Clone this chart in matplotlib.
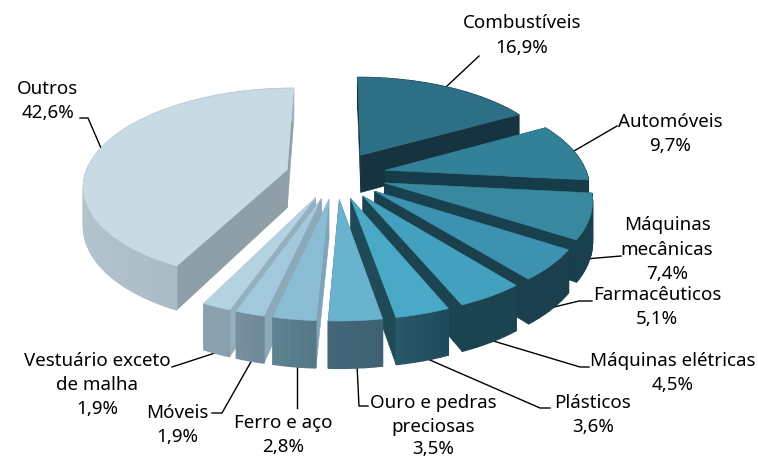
import numpy as np
import matplotlib
matplotlib.use('Agg')
import matplotlib.pyplot as plt
from matplotlib.colors import to_rgb
from matplotlib.patches import Polygon

plt.rcParams['font.family'] = ['Noto Sans', 'DejaVu Sans']

# Data (clockwise from 12 o'clock)
names = ['Combustíveis', 'Automóveis', 'Máquinas mecânicas', 'Farmacêuticos', 'Máquinas elétricas',
         'Plásticos', 'Ouro e pedras preciosas', 'Ferro e aço', 'Móveis', 'Vestuário exceto de malha', 'Outros']
shares = [16.9, 9.7, 7.4, 5.1, 4.5, 3.6, 3.5, 2.8, 1.9, 1.9, 42.6]

top_colors = ['#2d7086', '#338099', '#38899f', '#3c92b0', '#44a0bf', '#4ba9c8',
              '#6ab3ce', '#8abdd4', '#a2c8db', '#b5d2e0', '#c8dbe5']
side_colors = ['#16343f', '#173c49', '#19404e', '#1b3f4d', '#1b4350', '#1f4a58',
               '#3a6070', '#7fa3b7', '#8ba9b9', '#94afbd', '#8f9fa7']
arc_left = ['#16343f', '#173c49', '#19404e', '#1b3f4d', '#1b4350', '#2a5a6c',
            '#44687a', '#5f8493', '#7891a1', '#8ea3b1', '#b2c3cd']
arc_right = ['#16343f', '#173c49', '#19404e', '#1b3f4d', '#1b4350', '#204b5a',
             '#3e6272', '#557986', '#6f8a9a', '#8a9fac', '#a2b2ba']

# Projection of the tilted pie, in figure pixels
cx, cy = 336, 175
R, tilt, persp = 202, 0.47, 0.15
explode = 0.25
depth = 38.5


def project(x, y, z=0.0):
    s = 1 / (1 - persp * y)
    return cx + R * x * s, cy + (R * tilt * y + z) * s


fig = plt.figure(figsize=(7.58, 4.59), dpi=100)
ax = fig.add_axes([0, 0, 1, 1])
ax.set_xlim(0, 758)
ax.set_ylim(459, 0)
ax.axis('off')

edges = np.cumsum([0] + shares) / sum(shares) * 2 * np.pi
mids = (edges[:-1] + edges[1:]) / 2
order = np.argsort(-np.cos(mids))

for i in order:
    t = np.linspace(edges[i], edges[i + 1], max(int(shares[i] * 2), 6))
    ox, oy = explode * np.sin(mids[i]), -explode * np.cos(mids[i])
    ax_x, ax_y = ox + np.sin(t), oy - np.cos(t)

    # radial walls
    for k in (0, -1):
        pts = [project(ox, oy), project(ax_x[k], ax_y[k]),
               project(ax_x[k], ax_y[k], depth), project(ox, oy, depth)]
        ax.add_patch(Polygon(pts, fc=side_colors[i], ec=side_colors[i], lw=0.4, zorder=1))

    # outer wall with a left to right shade
    xs = project(ax_x, ax_y)[0]
    xmin, xmax = xs.min(), xs.max()
    for j in range(len(t) - 1):
        f = (xs[j] - xmin) / max(xmax - xmin, 1)
        c = (1 - f) * np.array(to_rgb(arc_left[i])) + f * np.array(to_rgb(arc_right[i]))
        pts = [project(ax_x[j], ax_y[j]), project(ax_x[j + 1], ax_y[j + 1]),
               project(ax_x[j + 1], ax_y[j + 1], depth), project(ax_x[j], ax_y[j], depth)]
        ax.add_patch(Polygon(pts, fc=c, ec=c, lw=1.0, zorder=1))

    # top face
    px, py = project(np.r_[ox, ax_x], np.r_[oy, ax_y])
    ax.add_patch(Polygon(np.c_[px, py], fc=top_colors[i], ec=top_colors[i], lw=0.4, zorder=1))

# Labels: one text per line, x centre and baselines
labels = [
    (['Combustíveis', '16,9%'], 522, [28, 53]),
    (['Automóveis', '9,7%'], 670, [127, 151]),
    (['Máquinas', 'mecânicas', '7,4%'], 667, [230, 255, 279]),
    (['Farmacêuticos', '5,1%'], 657, [300, 324]),
    (['Máquinas elétricas', '4,5%'], 673, [366, 390]),
    (['Plásticos', '3,6%'], 593, [408, 432]),
    (['Ouro e pedras', 'preciosas', '3,5%'], 433, [408, 432, 454]),
    (['Ferro e aço', '2,8%'], 283, [428, 452]),
    (['Móveis', '1,9%'], 177, [418, 442]),
    (['Vestuário exceto', 'de malha', '1,9%'], 97, [366, 390, 414]),
    (['Outros', '42,6%'], 48, [94, 118]),
]
for lines, lx, baselines in labels:
    for txt, ly in zip(lines, baselines):
        ax.text(lx, ly, txt, ha='center', va='baseline', fontsize=13.5, color='black', zorder=3)

# Leader lines
leaders = [
    ([479, 446], [56, 87]),
    ([617, 574], [126, 151]),
    ([621, 585], [256, 259]),
    ([592, 579, 550], [301, 301, 308]),
    ([589, 580, 490], [367, 367, 340]),
    ([550, 540, 423], [408, 408, 357]),
    ([368, 359, 357], [406, 406, 365]),
    ([297, 297], [408, 364]),
    ([212, 222, 252], [413, 413, 360]),
    ([172, 218], [367, 352]),
    ([80, 88, 101], [118, 118, 148]),
]
for lxs, lys in leaders:
    ax.plot(lxs, lys, color='black', lw=1, zorder=0)

fig.savefig('out.png', dpi=100)
